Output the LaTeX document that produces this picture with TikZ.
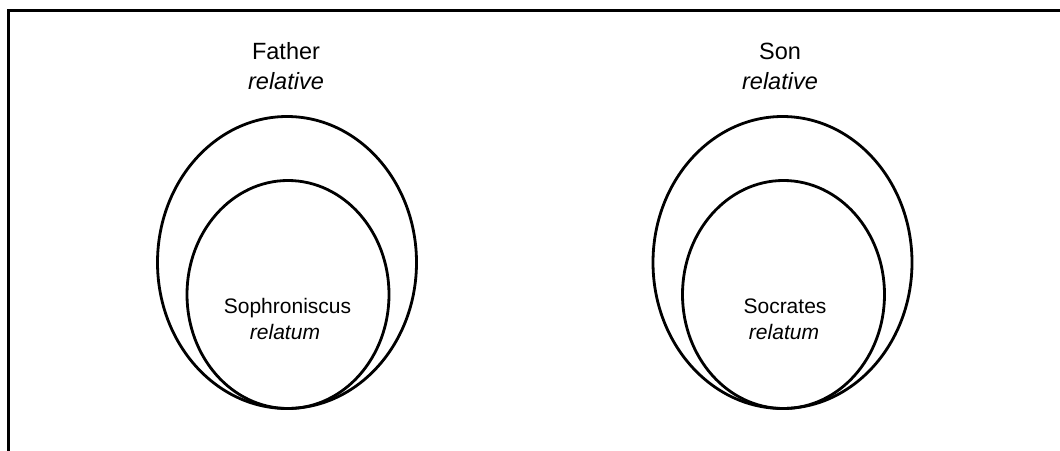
\documentclass[tikz,border=0pt]{standalone}
\usepackage{fontspec}
\setmainfont{Liberation Sans}
\usetikzlibrary{shapes.geometric}
\begin{document}
\begin{tikzpicture}[x=1pt,y=-1pt,
  frameline/.style={line width=3pt},
  oval/.style={draw, ellipse, line width=2.8pt, inner sep=0pt, outer sep=0pt},
  toplbl/.style={anchor=base, inner sep=0pt, font=\fontsize{23.5}{28}\selectfont},
  inlbl/.style={anchor=base, inner sep=0pt, font=\fontsize{21}{25}\selectfont}]
\useasboundingbox (0,0) rectangle (1060,450);
\coordinate (tl) at (8.5,10.5);
\coordinate (tr) at (1062,10.5);
\coordinate (bl) at (8.5,452);
\draw[frameline] (tr) -- (tl) -- (bl);
% left group
\node[oval, minimum width=259pt, minimum height=292pt] (fouter) at (287,262.5) {};
\node[oval, minimum width=202pt, minimum height=228pt] (finner) at (288,294.5) {};
\node[toplbl] (father) at (286,59) {Father};
\node[toplbl] (frel) at (286,89) {\textit{relative}};
\node[inlbl] (soph) at (287.5,313) {Sophroniscus};
\node[inlbl] (frelatum) at (285,339) {\textit{relatum}};
% right group
\node[oval, minimum width=259pt, minimum height=292pt] (souter) at (782.5,262.5) {};
\node[oval, minimum width=202pt, minimum height=228pt] (sinner) at (783.5,294.5) {};
\node[toplbl] (son) at (780,59) {Son};
\node[toplbl] (srel) at (780,89) {\textit{relative}};
\node[inlbl] (socr) at (785,313) {Socrates};
\node[inlbl] (srelatum) at (784,339) {\textit{relatum}};
\end{tikzpicture}
\end{document}
